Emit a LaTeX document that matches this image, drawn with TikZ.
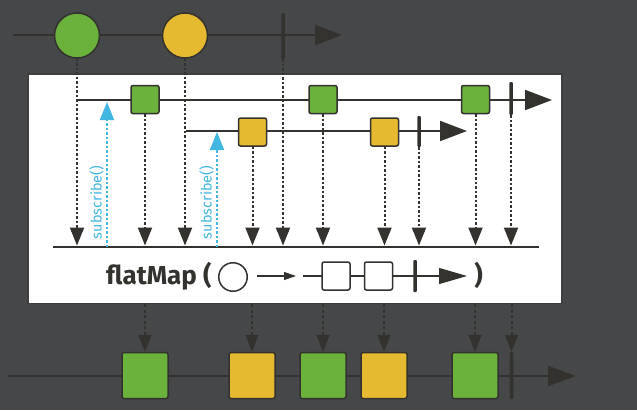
\documentclass[tikz,border=0pt]{standalone}
\usepackage{fontspec}
\setmainfont{Fira Sans}
\usetikzlibrary{arrows.meta}
\definecolor{bgc}{RGB}{70,71,73}
\definecolor{ink}{RGB}{52,50,46}
\definecolor{edge}{RGB}{62,62,62}
\definecolor{grn}{RGB}{106,178,60}
\definecolor{ylw}{RGB}{229,185,48}
\definecolor{sky}{RGB}{66,183,226}
\pgfdeclarelayer{back}
\pgfdeclarelayer{mid}
\pgfsetlayers{back,mid,main}
\tikzset{
  marble/.style={circle, draw=ink, line width=1.5pt, minimum size=45pt, inner sep=0pt},
  item/.style={rectangle, rounded corners=2pt, draw=ink, line width=1.5pt, minimum size=28pt, inner sep=0pt},
  bigitem/.style={item, minimum size=46pt},
  endbar/.style={rectangle, fill=ink, rounded corners=1pt, minimum width=3.5pt, inner sep=0pt},
  timeline/.style={draw=ink, line width=2pt, -{Triangle[length=27pt,width=20pt]}},
  thinline/.style={draw=ink, line width=1.5pt},
  drop/.style={draw=ink, line width=2pt, dash pattern=on 2.5pt off 2pt, -{Triangle[length=18pt,width=14pt]}},
  outdrop/.style={draw=ink, line width=2pt, dash pattern=on 3pt off 2.5pt, -{Triangle[length=17pt,width=13pt]}},
  subs/.style={draw=sky, line width=2pt, dash pattern=on 2.5pt off 2pt, -{Triangle[length=18pt,width=14pt]}},
  sublabel/.style={text=sky, font=\fontsize{14.5}{15}\selectfont, inner sep=0pt, rotate=90},
  bigtext/.style={text=ink, font=\bfseries\fontsize{26}{26}\selectfont, inner sep=0pt},
}
\begin{document}
\begin{tikzpicture}[x=1pt,y=-1pt]
\begin{pgfonlayer}{back}
\fill[bgc] (0,0) rectangle (637,410);
\node[draw=edge, fill=white, line width=1.5pt, minimum width=534pt, minimum height=229.5pt, inner sep=0pt, anchor=north west] (panel) at (27,73) {};
\end{pgfonlayer}
\useasboundingbox (0,0) rectangle (637,410);

% ---- source timeline
\coordinate (ts) at (13,35);
\coordinate (te) at (342,35);
\node[marble, fill=grn] (c1) at (77,35.5) {};
\node[marble, fill=ylw] (c2) at (185,35.5) {};
\node[endbar, minimum height=46pt] (b0) at (283,36) {};

% ---- inner line 1
\coordinate (l1s) at (77,100);
\coordinate (l1e) at (552,100);
\node[item, fill=grn] (g1) at (145,99.5) {};
\node[item, fill=grn] (g2) at (323,99.5) {};
\node[item, fill=grn] (g3) at (475.5,99.5) {};
\node[endbar, minimum height=33pt] (b1) at (511,98.5) {};

% ---- inner line 2
\coordinate (l2s) at (186,131);
\coordinate (l2e) at (467,131);
\node[item, fill=ylw] (y1) at (252.5,132) {};
\node[item, fill=ylw] (y2) at (384.5,132) {};
\node[endbar, minimum height=31pt] (b2) at (419,131.5) {};

% ---- merge line
\coordinate (ms) at (53,247);
\coordinate (me) at (539,247);
\coordinate (base) at (0,245.5);

% ---- legend
\node[bigtext, anchor=base west] (fm) at (106,284) {flatMap (};
\node[circle, draw=ink, line width=1.5pt, fill=white, minimum size=28.5pt, inner sep=0pt] (lc) at (233,277) {};
\coordinate (la) at (257,276);
\coordinate (lb) at (296,276);
\coordinate (lgs) at (303,276);
\coordinate (lge) at (467,276);
\node[item, fill=white] (q1) at (336,276) {};
\node[item, fill=white] (q2) at (378.5,276) {};
\node[endbar, minimum height=32pt] (lbar) at (415,276) {};
\node[bigtext, anchor=base] (cp) at (478.5,284) {)};

% ---- output timeline
\coordinate (os) at (8,376);
\coordinate (oe) at (576,376);
\node[bigitem, fill=grn] (o1) at (145,375.5) {};
\node[bigitem, fill=ylw] (o2) at (252,375.5) {};
\node[bigitem, fill=grn] (o3) at (323,375.5) {};
\node[bigitem, fill=ylw] (o4) at (384,375.5) {};
\node[bigitem, fill=grn] (o5) at (475,375.5) {};
\node[endbar, minimum height=47pt] (ob) at (511.5,375.5) {};

\begin{pgfonlayer}{mid}
\draw[timeline] (ts) -- (te);
\draw[timeline] (l1s) -- (l1e);
\draw[timeline] (l2s) -- (l2e);
\draw[thinline] (ms) -- (me);
\draw[draw=ink, line width=1.2pt, -{Triangle[length=28pt,width=16pt]}] (lgs) -- (lge);
\draw[timeline, -{Triangle[length=28pt,width=20pt]}] (os) -- (oe);
\end{pgfonlayer}

\draw[draw=ink, line width=1.2pt, -{Triangle[length=12pt,width=8pt]}] (la) -- (lb);

% drops into merge line
\foreach \n in {c1,c2,b0,g1,g2,g3,b1,y1,y2,b2}
  \draw[drop] (\n.south) -- (\n.south |- base);

% subscribe arrows
\coordinate (s1a) at (107,247);
\coordinate (s1b) at (107,102);
\coordinate (s2a) at (217,247);
\coordinate (s2b) at (217,132);
\draw[subs] (s1a) -- (s1b);
\draw[subs] (s2a) -- (s2b);
\node[sublabel] (t1) at (96.5,202.5) {subscribe()};
\node[sublabel] (t2) at (206.5,202.5) {subscribe()};

% drops to output
\foreach \n in {o1,o2,o3,o4,o5,ob}
  \draw[outdrop] (\n.north |- panel.south) -- (\n.north);
\end{tikzpicture}
\end{document}
